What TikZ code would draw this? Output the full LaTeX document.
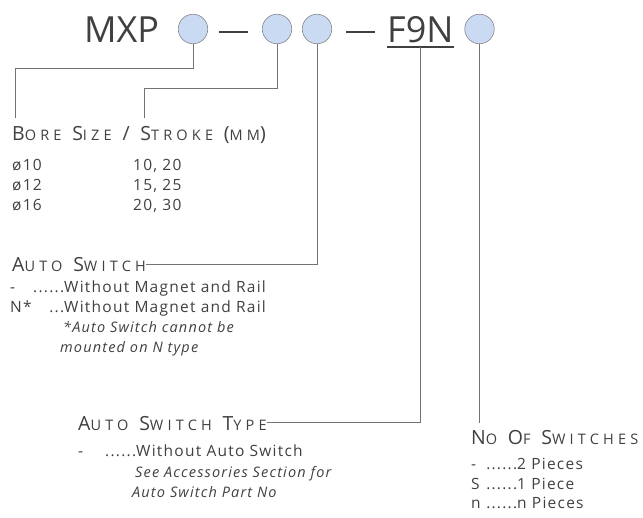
\documentclass[tikz,border=0pt]{standalone}
\usepackage{fontspec}
\setmainfont{Open Sans}
\newfontfamily\headfont{Open Sans}[LetterSpace=29]
\newfontfamily\itemfont{Open Sans}[LetterSpace=8]
\usetikzlibrary{positioning}
\definecolor{CodeBlue}{RGB}{201,218,242}
\definecolor{RimGray}{RGB}{135,135,140}
\definecolor{LeadGray}{RGB}{115,115,115}
\definecolor{InkGray}{RGB}{64,64,64}
\newcommand{\capw}[2]{{\fontsize{19.5}{22}\selectfont #1}{\fontsize{14.5}{16}\selectfont #2}}

\begin{document}
\begin{tikzpicture}[x=1pt,y=-1pt,
  code/.style={circle,draw=RimGray,fill=CodeBlue,line width=0.6pt,minimum size=29.5pt,inner sep=0pt},
  big/.style={anchor=base west,inner sep=0pt,text=InkGray,font=\fontsize{36}{40}\selectfont},
  bar/.style={anchor=west,inner sep=0pt,text=InkGray},
  head/.style={anchor=base west,inner sep=0pt,text=InkGray,font=\headfont\fontsize{19.5}{22}\selectfont},
  item/.style={anchor=base west,inner sep=0pt,text=InkGray,font=\itemfont\fontsize{15.5}{18}\selectfont},
  note/.style={item,font=\itemfont\itshape\fontsize{14.5}{18}\selectfont},
  lead/.style={draw=LeadGray,line width=0.9pt}]
\useasboundingbox (0,0) rectangle (643,518);
% model code
\node[big] (mxp) at (84,43) {MXP};
\node[code] (c1) at (193,29) {};
\node[bar] (d1) at (219,32) {\rule{29pt}{2.4pt}};
\node[code] (c2) at (277,29) {};
\node[code] (c3) at (317,29) {};
\node[bar] (d2) at (346,32) {\rule{29pt}{2.4pt}};
\node[big] (f9n) at (387,43) {F9N};
\draw[InkGray,line width=1.6pt] ([yshift=-4pt]f9n.base west) -- ([yshift=-4pt]f9n.base east);
\coordinate (ul) at ([yshift=-4pt]f9n.base);
\node[code] (c4) at (479.5,29) {};

% bore size / stroke
\node[head] (bs) at (12,141) {\capw{B}{ORE} \capw{S}{IZE} / \capw{S}{TROKE} (\capw{}{MM})};
\node[item] (b1) at (12,171) {ø10};
\node[item] (b2) at (12,191) {ø12};
\node[item] (b3) at (12,211) {ø16};
\node[item] (s1) at (133,171) {10, 20};
\node[item] (s2) at (133,191) {15, 25};
\node[item] (s3) at (133,211) {20, 30};

% auto switch
\node[head] (as) at (12,272) {\capw{A}{UTO} \capw{S}{WITCH}};
\node[item] (a1) at (10,293) {\makebox[54pt]{-\hfill......}Without Magnet and Rail};
\node[item] (a2) at (10,313) {\makebox[54pt]{N*\hfill...}Without Magnet and Rail};
\node[note] (a3) at (63,333) {*Auto Switch cannot be};
\node[note] (a4) at (60,353) {mounted on N type};

% auto switch type
\node[head] (ast) at (78,431) {\capw{A}{UTO} \capw{S}{WITCH} \capw{T}{YPE}};
\node[item] (t1) at (78,457) {\makebox[58pt]{-\hfill......}Without Auto Switch};
\node[note] (t2) at (135,478) {See Accessories Section for};
\node[note] (t3) at (132,498) {Auto Switch Part No};

% number of switches
\node[head] (ns) at (471,445) {\capw{N}{O} \capw{O}{F} \capw{S}{WITCHES}};
\node[item] (n1) at (471,470) {\makebox[46pt]{-\hfill......}2 Pieces};
\node[item] (n2) at (471,490) {\makebox[46pt]{S\hfill......}1 Piece};
\node[item] (n3) at (471,509) {\makebox[46pt]{n\hfill......}n Pieces};

% leaders
\coordinate (k1) at (15,68);
\coordinate (e1) at (15,118);
\coordinate (k2) at (144,88);
\coordinate (e2) at (144,118);
\coordinate (e5) at (479.5,423);
\draw[lead] (c1.south) |- (k1) -- (e1);
\draw[lead] (c2.south) |- (k2) -- (e2);
\draw[lead] (c3.south) |- ([yshift=8pt]as.base east);
\draw[lead] (ul) |- ([yshift=9pt]ast.base east);
\draw[lead] (c4.south) -- (e5);
\end{tikzpicture}
\end{document}
